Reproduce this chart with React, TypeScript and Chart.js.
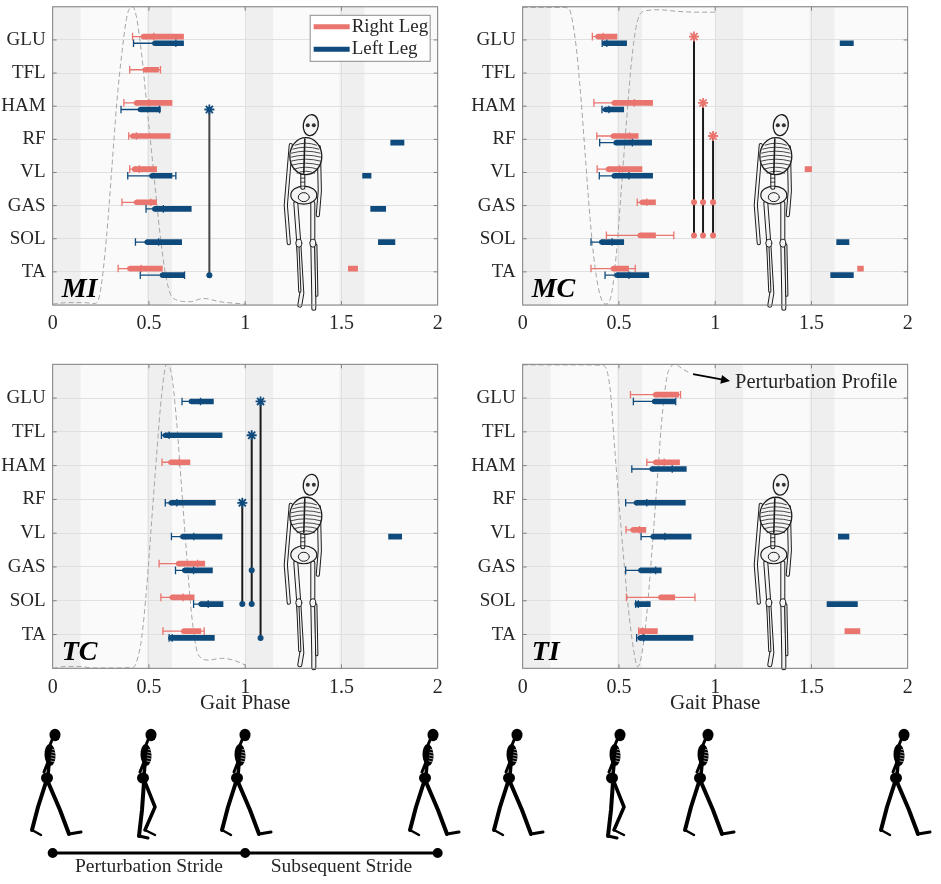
'use client'
import React, { useEffect, useRef } from 'react'
import Chart from 'chart.js/auto'

const muscles = ['GLU', 'TFL', 'HAM', 'RF', 'VL', 'GAS', 'SOL', 'TA']
const phaseBands = [[0, 0.145], [0.49, 0.62], [1, 1.145], [1.49, 1.62]]
const legendLabels = ['Right Leg', 'Left Leg']
const strideMarks = [0, 1, 2]
const strideLabels = ['Perturbation Stride', 'Subsequent Stride']

// MI: onset (dot), onset SD (error bar), offset (end of bar), late bursts
const miRightOnset = [0.47, 0.48, 0.435, 0.415, 0.425, 0.435, null, 0.40]
const miRightSd = [0.055, 0.08, 0.065, 0.02, 0.025, 0.075, null, 0.06]
const miRightOffset = [0.68, 0.55, 0.62, 0.61, 0.54, 0.54, null, 0.57]
const miRightLate = [null, null, null, null, null, null, null, [1.536, 1.584]]
const miLeftOnset = [0.53, null, 0.455, null, 0.515, 0.53, 0.49, 0.57]
const miLeftSd = [0.11, null, 0.1, null, 0.125, 0.045, 0.06, 0.115]
const miLeftOffset = [0.68, null, 0.56, null, 0.62, 0.72, 0.67, 0.685]
const miLeftLate = [null, null, null, [1.756, 1.825], [1.61, 1.654], [1.652, 1.73], [1.692, 1.778], null]
const miProfileX = [0, 0.08, 0.16, 0.22, 0.246, 0.281, 0.307, 0.333, 0.359, 0.388, 0.416, 0.436, 0.462, 0.488, 0.523, 0.558, 0.592, 0.627, 0.713, 0.783, 0.869, 1.0]
const miProfileY = [0.003, 0.008, 0.008, 0.005, 0.039, 0.237, 0.456, 0.677, 0.842, 0.974, 1.0, 0.963, 0.842, 0.677, 0.456, 0.237, 0.083, 0.022, 0.011, 0.022, 0.011, 0.003]
const miSigX = [0.814]
const miSigTop = [2]
const miSigDots = [[7]]

// MC
const mcRightOnset = [0.39, null, 0.475, 0.47, 0.445, 0.62, 0.61, 0.47]
const mcRightSd = [0.028, null, 0.105, 0.085, 0.058, 0.025, 0.175, 0.115]
const mcRightOffset = [0.49, null, 0.675, 0.6, 0.62, 0.69, 0.69, 0.55]
const mcRightLate = [null, null, null, null, [1.467, 1.501], null, null, [1.74, 1.77]]
const mcLeftOnset = [0.425, null, 0.43, 0.485, 0.475, null, 0.41, 0.49]
const mcLeftSd = [0.012, null, 0.018, 0.085, 0.077, null, 0.055, 0.062]
const mcLeftOffset = [0.54, null, 0.525, 0.67, 0.675, null, 0.525, 0.655]
const mcLeftLate = [[1.649, 1.718], null, null, null, null, null, [1.631, 1.695], [1.6, 1.718]]
const mcProfileX = [0, 0.1, 0.2, 0.237, 0.272, 0.298, 0.324, 0.35, 0.376, 0.405, 0.433, 0.462, 0.488, 0.514, 0.54, 0.566, 0.592, 0.627, 0.713, 0.8, 0.904, 1.0]
const mcProfileY = [0.998, 0.998, 0.998, 0.996, 0.897, 0.731, 0.512, 0.291, 0.126, 0.027, 0.003, 0.039, 0.182, 0.402, 0.621, 0.82, 0.941, 0.985, 0.99, 0.985, 0.982, 0.982]
const mcSigX = [0.89, 0.937, 0.989]
const mcSigTop = [0, 2, 3]
const mcSigDots = [[5, 6], [5, 6], [5, 6]]

// TC
const tcRightOnset = [null, null, 0.613, null, null, 0.653, 0.62, 0.68]
const tcRightSd = [null, null, 0.045, null, null, 0.1, 0.058, 0.107]
const tcRightOffset = [null, null, 0.713, null, null, 0.79, 0.735, 0.77]
const tcRightLate = [null, null, null, null, null, null, null, null]
const tcLeftOnset = [0.72, 0.585, null, 0.615, 0.675, 0.685, 0.77, 0.613]
const tcLeftSd = [0.048, 0.02, null, 0.03, 0.058, 0.047, 0.038, 0.008]
const tcLeftOffset = [0.835, 0.88, null, 0.845, 0.88, 0.83, 0.885, 0.84]
const tcLeftLate = [null, null, null, null, [1.745, 1.813], null, null, null]
const tcProfileX = [0, 0.073, 0.142, 0.211, 0.3, 0.419, 0.436, 0.462, 0.488, 0.514, 0.54, 0.566, 0.592, 0.618, 0.644, 0.67, 0.696, 0.722, 0.757, 0.809, 0.878, 0.939, 1.0]
const tcProfileY = [0, 0.006, 0.006, 0.001, 0.001, 0.003, 0.022, 0.099, 0.263, 0.482, 0.702, 0.899, 1.0, 0.965, 0.811, 0.592, 0.373, 0.175, 0.044, 0.027, 0.033, 0.027, 0.011]
const tcSigX = [0.985, 1.034, 1.08]
const tcSigTop = [3, 1, 0]
const tcSigDots = [[6], [5, 6], [7]]

// TI
const tiRightOnset = [0.69, null, 0.69, null, 0.572, null, 0.717, 0.613]
const tiRightSd = [0.13, null, 0.045, null, 0.035, null, 0.178, 0.01]
const tiRightOffset = [0.81, null, 0.815, null, 0.64, null, 0.79, 0.7]
const tiRightLate = [null, null, null, null, null, null, null, [1.674, 1.752]]
const tiLeftOnset = [0.685, null, 0.672, 0.59, 0.677, 0.613, 0.594, 0.61]
const tiLeftSd = [0.11, null, 0.105, 0.055, 0.062, 0.078, 0.007, 0.018]
const tiLeftOffset = [0.79, null, 0.85, 0.845, 0.875, 0.72, 0.663, 0.885]
const tiLeftLate = [null, null, null, null, [1.64, 1.695], null, [1.581, 1.739], null]
const tiProfileX = [0, 0.1, 0.2, 0.3, 0.42, 0.454, 0.474, 0.497, 0.523, 0.549, 0.575, 0.597, 0.618, 0.644, 0.67, 0.696, 0.722, 0.748, 0.774, 0.79, 0.83, 0.87]
const tiProfileY = [0.998, 0.998, 0.998, 0.998, 0.996, 0.921, 0.757, 0.57, 0.373, 0.197, 0.066, 0.005, 0.044, 0.175, 0.373, 0.592, 0.811, 0.954, 0.995, 1.0, 0.985, 0.97]

const RIGHT_COLOR = '#EA746E'
const LEFT_COLOR = '#0F4A7C'
const TEXT = '#262626'
const SERIF = '"Liberation Serif", "Times New Roman", serif'
const INK = '#1c1c1c'
const BONE = '#f4f4f4'

// walking figures under the panels (decoration): head x in page pixels and pose
const walkerHeads = [55, 151, 245, 433, 517, 620, 708, 904]
const walkerPoses = ['stride', 'mid', 'stride', 'stride', 'stride', 'mid', 'stride', 'stride']

const panels = [
    {
        name: 'MI', box: { x: 0, y: 0, w: 470, h: 340 }, padTop: 2, axisH: 35, title: false, legend: true, note: false,
        right: { onset: miRightOnset, sd: miRightSd, offset: miRightOffset, late: miRightLate },
        left: { onset: miLeftOnset, sd: miLeftSd, offset: miLeftOffset, late: miLeftLate },
        profile: { x: miProfileX, y: miProfileY },
        sig: { x: miSigX, top: miSigTop, dots: miSigDots, leg: 'left', line: '#454545' }
    },
    {
        name: 'MC', box: { x: 470, y: 0, w: 471, h: 340 }, padTop: 2, axisH: 35, title: false, legend: false, note: false,
        right: { onset: mcRightOnset, sd: mcRightSd, offset: mcRightOffset, late: mcRightLate },
        left: { onset: mcLeftOnset, sd: mcLeftSd, offset: mcLeftOffset, late: mcLeftLate },
        profile: { x: mcProfileX, y: mcProfileY },
        sig: { x: mcSigX, top: mcSigTop, dots: mcSigDots, leg: 'right', line: '#1a1a1a' }
    },
    {
        name: 'TC', box: { x: 0, y: 355, w: 470, h: 361 }, padTop: 9.3, axisH: 47.7, title: true, legend: false, note: false,
        right: { onset: tcRightOnset, sd: tcRightSd, offset: tcRightOffset, late: tcRightLate },
        left: { onset: tcLeftOnset, sd: tcLeftSd, offset: tcLeftOffset, late: tcLeftLate },
        profile: { x: tcProfileX, y: tcProfileY },
        sig: { x: tcSigX, top: tcSigTop, dots: tcSigDots, leg: 'left', line: '#1a1a1a' }
    },
    {
        name: 'TI', box: { x: 470, y: 355, w: 471, h: 361 }, padTop: 9.3, axisH: 47.7, title: true, legend: false, note: true,
        right: { onset: tiRightOnset, sd: tiRightSd, offset: tiRightOffset, late: tiRightLate },
        left: { onset: tiLeftOnset, sd: tiLeftSd, offset: tiLeftOffset, late: tiLeftLate },
        profile: { x: tiProfileX, y: tiProfileY },
        sig: null
    }
]

function legDatasets(leg: any, color: string, shift: number) {
    const bars: any[] = [], err: any[] = [], caps: any[] = [], dots: any[] = []
    muscles.forEach((_, i) => {
        const y = i + 1 + shift
        if (leg.onset[i] != null) {
            const lo = leg.onset[i] - leg.sd[i]
            const hi = leg.onset[i] + leg.sd[i]
            bars.push({ y, x: [leg.onset[i], leg.offset[i]] })
            err.push({ x: lo, y }, { x: hi, y }, { x: null, y: null })
            caps.push({ x: lo, y }, { x: hi, y })
            dots.push({ x: leg.onset[i], y })
        }
        if (leg.late[i]) bars.push({ y, x: leg.late[i] })
    })
    return [
        { type: 'bar', indexAxis: 'y', data: bars, backgroundColor: color, barThickness: 5, grouped: false, borderWidth: 0, order: 6, xAxisID: 'x', yAxisID: 'y' },
        { type: 'line', data: err, borderColor: color, borderWidth: 1.3, pointRadius: 0, order: 5, xAxisID: 'x', yAxisID: 'y' },
        { type: 'scatter', data: caps, pointStyle: 'line', rotation: 90, pointRadius: 3.8, borderColor: color, borderWidth: 1.3, order: 4, xAxisID: 'x', yAxisID: 'y' },
        { type: 'scatter', data: dots, pointRadius: 2.6, backgroundColor: color, borderColor: color, borderWidth: 0, order: 3, xAxisID: 'x', yAxisID: 'y' }
    ]
}

function sigDatasets(sig: any) {
    if (!sig) return []
    const shift = sig.leg === 'right' ? -0.1 : 0.1
    const color = sig.leg === 'right' ? RIGHT_COLOR : LEFT_COLOR
    const lines: any[] = [], ends: any[] = [], stars: any[] = []
    sig.x.forEach((x: number, k: number) => {
        const last = Math.max(...sig.dots[k])
        lines.push({ x, y: sig.top[k] + 1 + shift }, { x, y: last + 1 + shift }, { x: null, y: null })
        sig.dots[k].forEach((d: number) => ends.push({ x, y: d + 1 + shift }))
        stars.push({ x, y: sig.top[k] + 1 + shift })
    })
    return [
        { type: 'line', data: lines, borderColor: sig.line, borderWidth: 2, pointRadius: 0, order: 2, xAxisID: 'x', yAxisID: 'y' },
        { type: 'scatter', data: ends, pointRadius: 3, backgroundColor: color, borderWidth: 0, order: 1, xAxisID: 'x', yAxisID: 'y' },
        { type: 'scatter', data: stars, pointStyle: 'star', pointRadius: 5, borderColor: color, borderWidth: 1.8, order: 0, xAxisID: 'x', yAxisID: 'y' }
    ]
}

// outlined bone: dark stroke then a light core
function bone(ctx: any, pts: number[][], w: number) {
    ctx.lineCap = 'round'
    ctx.lineJoin = 'round'
    ;[[w + 2, INK], [w, BONE]].forEach(([lw, c]: any) => {
        ctx.lineWidth = lw
        ctx.strokeStyle = c
        ctx.beginPath()
        pts.forEach(([px, py], k) => (k ? ctx.lineTo(px, py) : ctx.moveTo(px, py)))
        ctx.stroke()
    })
}

function outlinedEllipse(ctx: any, x: number, y: number, rx: number, ry: number, rot: number, lw: number) {
    ctx.beginPath()
    ctx.ellipse(x, y, rx, ry, rot, 0, Math.PI * 2)
    ctx.fillStyle = BONE
    ctx.fill()
    ctx.strokeStyle = INK
    ctx.lineWidth = lw
    ctx.stroke()
}

function drawFrontSkeleton(ctx: any, cx: number, top: number) {
    const P = (dx: number, dy: number) => [cx + dx, top + dy]
    ctx.save()
    // legs and arms
    bone(ctx, [P(-10, 88), P(-7, 128), P(-4, 178), P(-6, 190)], 3)
    bone(ctx, [P(7, 88), P(7, 128), P(8, 182), P(8, 193)], 3)
    bone(ctx, [P(-8, 130), P(-6, 176)], 1.2)
    bone(ctx, [P(10, 130), P(11, 180)], 1.2)
    bone(ctx, [P(-15, 30), P(-20, 90), P(-17, 128)], 2.2)
    bone(ctx, [P(13, 32), P(14, 76), P(12, 100)], 2.2)
    // knees
    outlinedEllipse(ctx, cx - 7, top + 128, 3, 4, 0, 1)
    outlinedEllipse(ctx, cx + 7, top + 128, 3, 4, 0, 1)
    // pelvis
    outlinedEllipse(ctx, cx - 2, top + 80, 13, 9, 0, 1.2)
    ctx.strokeStyle = INK
    ctx.lineWidth = 1
    ctx.beginPath(); ctx.ellipse(cx - 2, top + 82, 5.5, 4.5, 0, 0, Math.PI * 2); ctx.stroke()
    // spine
    bone(ctx, [P(-3, 56), P(-3, 72)], 3)
    ctx.strokeStyle = INK
    ctx.lineWidth = 0.8
    for (let k = 0; k < 4; k++) {
        ctx.beginPath(); ctx.moveTo(cx - 5, top + 59 + k * 4); ctx.lineTo(cx - 1, top + 59 + k * 4); ctx.stroke()
    }
    // ribcage
    outlinedEllipse(ctx, cx, top + 41, 16, 18.5, 0, 1.3)
    ctx.strokeStyle = INK
    ctx.lineWidth = 0.8
    for (let k = 0; k < 8; k++) {
        const dy = 28 + k * 4
        const half = 15 * Math.sqrt(Math.max(0, 1 - Math.pow((dy - 41) / 18.5, 2)))
        ctx.beginPath()
        ctx.moveTo(cx - half, top + dy + 2)
        ctx.quadraticCurveTo(cx, top + dy - 2, cx + half, top + dy + 2)
        ctx.stroke()
    }
    ctx.beginPath(); ctx.moveTo(cx - 1, top + 24); ctx.lineTo(cx - 2, top + 58); ctx.lineWidth = 1.6; ctx.stroke()
    // skull
    outlinedEllipse(ctx, cx + 5, top + 10, 7.5, 10.5, 0.15, 1.3)
    ctx.fillStyle = '#333'
    ctx.beginPath(); ctx.arc(cx + 2, top + 10, 2, 0, Math.PI * 2); ctx.fill()
    ctx.beginPath(); ctx.arc(cx + 8, top + 10, 2, 0, Math.PI * 2); ctx.fill()
    ctx.restore()
}

function drawWalker(ctx: any, hx: number, hy: number, pose: string) {
    ctx.save()
    ctx.fillStyle = '#000'
    ctx.strokeStyle = '#000'
    ctx.lineCap = 'round'
    ctx.lineJoin = 'round'
    const line = (pts: number[][], w: number) => {
        ctx.strokeStyle = '#000'
        ctx.lineWidth = w
        ctx.beginPath()
        pts.forEach(([dx, dy], k) => (k ? ctx.lineTo(hx + dx, hy + dy) : ctx.moveTo(hx + dx, hy + dy)))
        ctx.stroke()
    }
    ctx.beginPath(); ctx.ellipse(hx, hy, 5.5, 6.2, 0, 0, Math.PI * 2); ctx.fill()
    line([[-3, 5], [-5, 10]], 3)
    ctx.beginPath(); ctx.ellipse(hx - 5, hy + 20, 5.5, 11, -0.05, 0, Math.PI * 2); ctx.fill()
    ctx.strokeStyle = '#fff'
    ctx.lineWidth = 0.6
    for (let k = 0; k < 5; k++) {
        ctx.beginPath(); ctx.moveTo(hx - 4, hy + 14 + k * 3); ctx.lineTo(hx, hy + 15 + k * 3); ctx.stroke()
    }
    line([[-6, 29], [-7, 40]], 3.5)
    line([[-4, 12], [-7, 27], [-11, 37]], 3)
    ctx.beginPath(); ctx.ellipse(hx - 8, hy + 43, 6, 5.5, 0, 0, Math.PI * 2); ctx.fill()
    if (pose === 'stride') {
        line([[-9, 47], [-17, 72], [-23, 95]], 4)
        line([[-23, 95], [-14, 100]], 2.5)
        line([[-7, 47], [5, 75], [14, 99]], 4)
        line([[14, 99], [26, 97]], 3)
    } else {
        line([[-7, 47], [-9, 75], [-12, 101]], 4)
        line([[-12, 101], [-3, 103]], 3)
        line([[-6, 47], [4, 72], [-6, 95]], 3.5)
        line([[-6, 95], [4, 100]], 2.5)
    }
    ctx.restore()
}

function panelPlugin(p: any) {
    return {
        id: 'panelDecor',
        beforeDraw(chart: any) {
            const { ctx, chartArea: a, scales } = chart
            ctx.save()
            ctx.fillStyle = '#fafafa'
            ctx.fillRect(a.left, a.top, a.width, a.height)
            ctx.fillStyle = '#efefef'
            phaseBands.forEach(([s, e]) => {
                const x1 = scales.x.getPixelForValue(s)
                const x2 = scales.x.getPixelForValue(e)
                ctx.fillRect(x1, a.top, x2 - x1, a.height)
            })
            ctx.restore()
        },
        beforeDatasetsDraw(chart: any) {
            const { ctx, scales } = chart
            drawFrontSkeleton(ctx, scales.x.getPixelForValue(1.315), scales.y.getPixelForValue(3.27))
        },
        afterDraw(chart: any) {
            const { ctx, chartArea: a, scales } = chart
            ctx.save()
            // axes box and inward ticks
            ctx.strokeStyle = '#808080'
            ctx.lineWidth = 1
            ctx.strokeRect(a.left, a.top, a.width, a.height)
            ctx.beginPath()
            muscles.forEach((_, i) => {
                const y = scales.y.getPixelForValue(i + 1)
                ctx.moveTo(a.left, y); ctx.lineTo(a.left + 4, y)
                ctx.moveTo(a.right, y); ctx.lineTo(a.right - 4, y)
            })
            ;[0.5, 1, 1.5].forEach((v) => {
                const x = scales.x.getPixelForValue(v)
                ctx.moveTo(x, a.bottom); ctx.lineTo(x, a.bottom - 4)
                ctx.moveTo(x, a.top); ctx.lineTo(x, a.top + 4)
            })
            ctx.stroke()

            // panel label
            ctx.fillStyle = '#000'
            ctx.font = `italic bold 28px ${SERIF}`
            ctx.textAlign = 'left'
            ctx.textBaseline = 'alphabetic'
            ctx.fillText(p.name, a.left + 9, a.bottom - 8)

            if (p.legend) {
                const bx = a.right - 128, by = a.top + 8
                ctx.fillStyle = '#fff'
                ctx.fillRect(bx, by, 120, 46)
                ctx.strokeStyle = '#8c8c8c'
                ctx.lineWidth = 1
                ctx.strokeRect(bx + 0.5, by + 0.5, 120, 46)
                ;[RIGHT_COLOR, LEFT_COLOR].forEach((c, k) => {
                    const ly = by + 12 + k * 22.5
                    ctx.strokeStyle = c
                    ctx.lineWidth = 5
                    ctx.beginPath(); ctx.moveTo(bx + 4, ly); ctx.lineTo(bx + 40, ly); ctx.stroke()
                    ctx.fillStyle = TEXT
                    ctx.font = `19px ${SERIF}`
                    ctx.textBaseline = 'middle'
                    ctx.fillText(legendLabels[k], bx + 42, ly)
                })
            }

            if (p.note) {
                const x1 = scales.x.getPixelForValue(0.885), y1 = scales.yp.getPixelForValue(0.968)
                const x2 = scales.x.getPixelForValue(1.077), y2 = scales.yp.getPixelForValue(0.945)
                const ang = Math.atan2(y2 - y1, x2 - x1)
                ctx.strokeStyle = '#000'
                ctx.fillStyle = '#000'
                ctx.lineWidth = 1.8
                ctx.beginPath(); ctx.moveTo(x1, y1); ctx.lineTo(x2 - 6 * Math.cos(ang), y2 - 6 * Math.sin(ang)); ctx.stroke()
                ctx.beginPath()
                ctx.moveTo(x2, y2)
                ctx.lineTo(x2 - 9 * Math.cos(ang) + 4.5 * Math.sin(ang), y2 - 9 * Math.sin(ang) - 4.5 * Math.cos(ang))
                ctx.lineTo(x2 - 9 * Math.cos(ang) - 4.5 * Math.sin(ang), y2 - 9 * Math.sin(ang) + 4.5 * Math.cos(ang))
                ctx.closePath(); ctx.fill()
                ctx.font = `20.5px ${SERIF}`
                ctx.fillStyle = TEXT
                ctx.textBaseline = 'middle'
                ctx.fillText('Perturbation Profile', scales.x.getPixelForValue(1.103), scales.yp.getPixelForValue(0.94))
            }
            ctx.restore()
        }
    }
}

function panelConfig(p: any): any {
    const profile = p.profile.x.map((x: number, i: number) => ({ x, y: p.profile.y[i] }))
    return {
        type: 'bar',
        data: {
            datasets: [
                ...legDatasets(p.right, RIGHT_COLOR, -0.1),
                ...legDatasets(p.left, LEFT_COLOR, 0.1),
                ...sigDatasets(p.sig),
                {
                    type: 'line', data: profile, borderColor: '#a6a6a6', borderWidth: 1, borderDash: [5, 3],
                    pointRadius: 0, cubicInterpolationMode: 'monotone', order: 10, xAxisID: 'x', yAxisID: 'yp'
                }
            ]
        },
        options: {
            animation: false,
            responsive: false,
            events: [],
            layout: { padding: { top: p.padTop, right: p.box.w - 52.67 - 385, left: 0, bottom: 0 } },
            plugins: { legend: { display: false }, tooltip: { enabled: false } },
            scales: {
                x: {
                    type: 'linear', min: 0, max: 2, offset: false,
                    ticks: { stepSize: 0.5, padding: 7, color: TEXT, font: { family: SERIF, size: 20 }, maxRotation: 0, autoSkip: false, callback: (v: any) => String(v) },
                    grid: { color: '#e0e0e0', drawTicks: false, offset: false },
                    border: { display: false },
                    title: { display: p.title, text: 'Gait Phase', color: TEXT, font: { family: SERIF, size: 21 }, padding: { top: 0, bottom: 0 } },
                    afterFit: (s: any) => { s.height = p.axisH; s.paddingLeft = 0; s.paddingRight = 0 }
                },
                y: {
                    type: 'linear', reverse: true, min: 0, max: 9, offset: false,
                    ticks: { stepSize: 1, padding: 7, color: TEXT, font: { family: SERIF, size: 19 }, autoSkip: false, callback: (v: any) => muscles[Number(v) - 1] ?? '' },
                    grid: { color: '#e0e0e0', drawTicks: false, offset: false },
                    border: { display: false },
                    afterFit: (s: any) => { s.width = 52.67; s.paddingTop = 0; s.paddingBottom = 0 }
                },
                yp: { type: 'linear', min: 0, max: 1, display: false }
            }
        },
        plugins: [panelPlugin(p)]
    }
}

function strideConfig(): any {
    return {
        type: 'line',
        data: {
            datasets: [{
                data: strideMarks.map((x) => ({ x, y: 0.16 })),
                borderColor: '#000', backgroundColor: '#000', borderWidth: 3, pointRadius: 3.5, clip: false
            }]
        },
        options: {
            animation: false,
            responsive: false,
            events: [],
            layout: { padding: { left: 52.67, right: 941 - 437.67, top: 0, bottom: 0 } },
            plugins: { legend: { display: false }, tooltip: { enabled: false } },
            scales: {
                x: { type: 'linear', min: 0, max: 2, display: false },
                y: { type: 'linear', min: 0, max: 1, display: false }
            }
        },
        plugins: [{
            id: 'strideLabels',
            beforeDatasetsDraw(chart: any) {
                walkerHeads.forEach((hx, k) => drawWalker(chart.ctx, hx, 15, walkerPoses[k]))
            },
            afterDraw(chart: any) {
                const { ctx, scales } = chart
                ctx.save()
                ctx.fillStyle = TEXT
                ctx.font = `19.5px ${SERIF}`
                ctx.textAlign = 'center'
                ctx.textBaseline = 'middle'
                strideLabels.forEach((t, k) => {
                    const mid = (strideMarks[k] + strideMarks[k + 1]) / 2
                    ctx.fillText(t, scales.x.getPixelForValue(mid), scales.y.getPixelForValue(0.065))
                })
                ctx.restore()
            }
        }]
    }
}

const ChartCanvas: React.FC<{ box: any, build: () => any }> = ({ box, build }) => {
    const ref = useRef<HTMLCanvasElement>(null)
    useEffect(() => {
        if (!ref.current) return
        const chart = new Chart(ref.current, build())
        return () => chart.destroy()
    }, [])
    return (
        <canvas ref={ref} width={box.w} height={box.h}
            style={{ position: 'absolute', left: box.x, top: box.y, width: box.w, height: box.h }} />
    )
}

export default function App() {
    return (
        <div style={{ position: 'absolute', left: 0, top: 0, width: 941, height: 884, background: '#fff' }}>
            {panels.map((p) => (
                <ChartCanvas key={p.name} box={p.box} build={() => panelConfig(p)} />
            ))}
            <ChartCanvas box={{ x: 0, y: 720, w: 941, h: 164 }} build={strideConfig} />
        </div>
    )
}
